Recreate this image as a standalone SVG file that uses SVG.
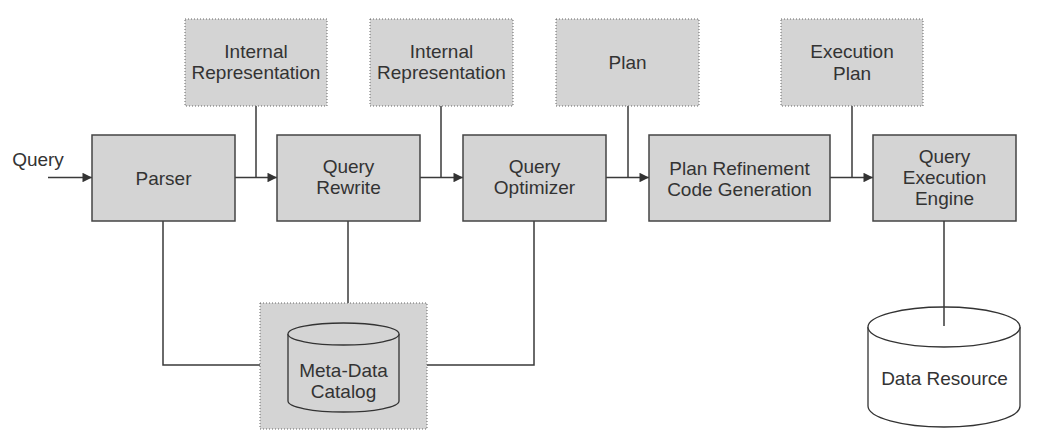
<svg xmlns="http://www.w3.org/2000/svg" width="1040" height="437" viewBox="0 0 1040 437">
<defs>
<style>
.box{fill:#d4d4d4;stroke:#444;stroke-width:1.5}
.dbox{fill:#d4d4d4;stroke:#666;stroke-width:1;stroke-dasharray:1 2}
.ln{fill:none;stroke:#3a3a3a;stroke-width:1.5}
.cyl{stroke:#333;stroke-width:1.3}
text{font-family:"Liberation Sans",Arial,sans-serif;font-size:19px;fill:#333;text-anchor:middle}
</style>
<marker id="ah" viewBox="0 0 10 10" refX="10" refY="5" markerWidth="10" markerHeight="9.5" markerUnits="userSpaceOnUse" orient="auto">
<path d="M0,0 L10,5 L0,10 Z" fill="#333"/>
</marker>
</defs>
<rect width="1040" height="437" fill="#fff"/>

<g id="connectors">
<line class="ln" x1="48" y1="177.5" x2="92" y2="177.5" marker-end="url(#ah)"/>
<line class="ln" x1="235" y1="177.5" x2="277" y2="177.5" marker-end="url(#ah)"/>
<line class="ln" x1="420" y1="177.5" x2="463" y2="177.5" marker-end="url(#ah)"/>
<line class="ln" x1="606" y1="177.5" x2="649" y2="177.5" marker-end="url(#ah)"/>
<line class="ln" x1="830" y1="177.5" x2="873" y2="177.5" marker-end="url(#ah)"/>
<line class="ln" x1="256" y1="106" x2="256" y2="177.5"/>
<line class="ln" x1="441" y1="106" x2="441" y2="177.5"/>
<line class="ln" x1="628" y1="106" x2="628" y2="177.5"/>
<line class="ln" x1="852" y1="106" x2="852" y2="177.5"/>
<polyline class="ln" points="163,221 163,365 260,365"/>
<line class="ln" x1="348" y1="221" x2="348" y2="303"/>
<polyline class="ln" points="534,221 534,365 427,365"/>
</g>

<g id="query-label"><text x="38" y="166">Query</text></g>

<g id="ir1"><rect class="dbox" x="185" y="19" width="142" height="87"/><text x="256" y="58">Internal</text><text x="256" y="79">Representation</text></g>
<g id="ir2"><rect class="dbox" x="370" y="19" width="143" height="87"/><text x="441.5" y="58">Internal</text><text x="441.5" y="79">Representation</text></g>
<g id="plan"><rect class="dbox" x="556" y="19" width="143" height="87"/><text x="627.5" y="69">Plan</text></g>
<g id="exec-plan"><rect class="dbox" x="781" y="19" width="142" height="87"/><text x="852" y="58">Execution</text><text x="852" y="80">Plan</text></g>

<g id="parser"><rect class="box" x="92" y="135" width="143" height="86"/><text x="163.5" y="185">Parser</text></g>
<g id="rewrite"><rect class="box" x="277" y="135" width="143" height="86"/><text x="348.5" y="173">Query</text><text x="348.5" y="194">Rewrite</text></g>
<g id="optimizer"><rect class="box" x="463" y="135" width="143" height="86"/><text x="534.5" y="173">Query</text><text x="534.5" y="194">Optimizer</text></g>
<g id="refinement"><rect class="box" x="649" y="135" width="181" height="86"/><text x="739.5" y="175">Plan Refinement</text><text x="739.5" y="196">Code Generation</text></g>
<g id="engine"><rect class="box" x="873" y="135" width="143" height="86"/><text x="944.5" y="163">Query</text><text x="944.5" y="184">Execution</text><text x="944.5" y="205">Engine</text></g>

<g id="catalog">
<rect class="dbox" x="260" y="303" width="167" height="126"/>
<path class="cyl" fill="#d4d4d4" d="M288,334 L288,401 A55.5,11 0 0 0 399,401 L399,334"/>
<ellipse class="cyl" fill="#d4d4d4" cx="343.5" cy="334" rx="55.5" ry="11"/>
<text x="343.5" y="377">Meta-Data</text><text x="343.5" y="398">Catalog</text>
</g>

<g id="data-resource">
<path class="cyl" fill="#fff" d="M868,327 L868,406 A76,21 0 0 0 1020,406 L1020,327"/>
<ellipse class="cyl" fill="#fff" cx="944" cy="327" rx="76" ry="20"/>
<line class="ln" x1="944" y1="221" x2="944" y2="326"/>
<text x="944.5" y="385">Data Resource</text>
</g>
</svg>
